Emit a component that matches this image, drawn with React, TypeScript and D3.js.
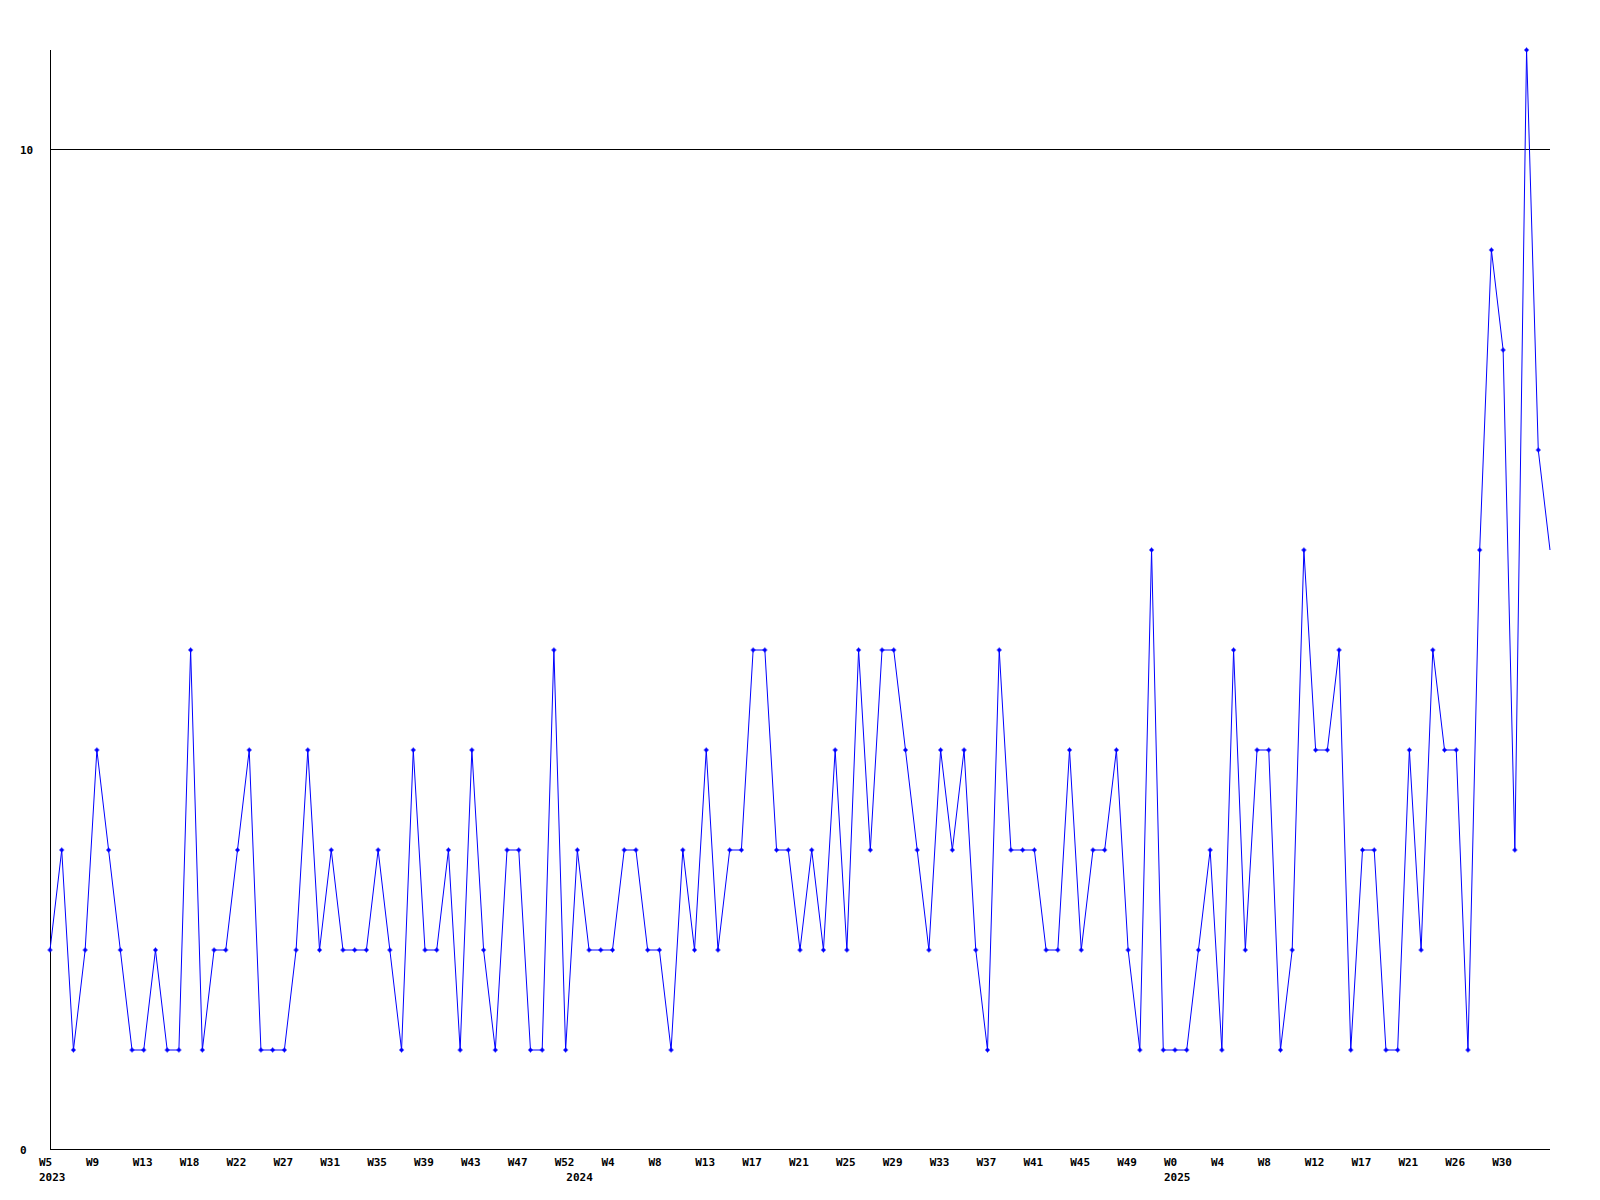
import React from "react";
import * as d3 from "d3";

// ---- data ----
const values: number[] = [
  2, 3, 1, 2, 4, 3, 2, 1, 1, 2, 1, 1, 5, 1, 2, 2, 3,
  4, 1, 1, 1, 2, 4, 2, 3, 2, 2, 2, 3, 2, 1, 4, 2,
  2, 3, 1, 4, 2, 1, 3, 3, 1, 1, 5, 1, 3, 2, 2, 2,
  3, 3, 2, 2, 1, 3, 2, 4, 2, 3, 3, 5, 5, 3, 3, 2,
  3, 2, 4, 2, 5, 3, 5, 5, 4, 3, 2, 4, 3, 4, 2, 1, 5,
  3, 3, 3, 2, 2, 4, 2, 3, 3, 4, 2, 1, 6, 1, 1, 1,
  2, 3, 1, 5, 2, 4, 4, 1, 2, 6, 4, 4, 5, 1, 3, 3,
  1, 1, 4, 2, 5, 4, 4, 1, 6, 9, 8, 3, 11, 7, 6,
];

const weekLabels: string[] = [
  "W5", "W9", "W13", "W18", "W22", "W27", "W31", "W35", "W39", "W43", "W47", "W52",
  "W4", "W8", "W13", "W17", "W21", "W25", "W29", "W33", "W37", "W41", "W45", "W49",
  "W0", "W4", "W8", "W12", "W17", "W21", "W26", "W30",
];
const weekLabelEvery = 4;

const yearLabels: string[] = ["2023", "2024", "2025"];
const yearStartIndex: number[] = [0, 45, 96];

const yTicks: number[] = [0, 10];
const yMax = 11;

// ---- layout ----
const W = 1600;
const H = 1200;
const left = 50;
const right = 1550;
const top = 50;
const bottom = 1150;

export default function App() {
  const x = d3.scaleLinear().domain([0, values.length - 1]).range([left, right]);
  const y = d3.scaleLinear().domain([0, yMax]).range([bottom, top]);
  const line = d3
    .line<number>()
    .x((_, i) => x(i))
    .y((d) => y(d));

  const font = "'DejaVu Sans Mono', 'Liberation Mono', monospace";

  return (
    <svg
      width={W}
      height={H}
      style={{ position: "absolute", left: 0, top: 0, background: "#fff" }}
    >
      <rect x={0} y={0} width={W} height={H} fill="#fff" />
      {/* y axis */}
      <line x1={left + 0.5} x2={left + 0.5} y1={top} y2={bottom} stroke="#000" strokeWidth={1} />
      {/* horizontal lines for ticks */}
      {yTicks.map((t) => (
        <g key={t}>
          <line
            x1={left}
            x2={right}
            y1={Math.round(y(t)) - 0.5}
            y2={Math.round(y(t)) - 0.5}
            stroke="#000"
            strokeWidth={1}
          />
          <text
            x={20}
            y={y(t) + 4}
            fontFamily={font}
            fontWeight="bold"
            fontSize={11}
            fill="#000"
          >
            {t}
          </text>
        </g>
      ))}
      {/* x labels */}
      {weekLabels.map((lab, k) => (
        <text
          key={"w" + k}
          x={x(k * weekLabelEvery) - 11}
          y={1166}
          fontFamily={font}
          fontWeight="bold"
          fontSize={11}
          fill="#000"
        >
          {lab}
        </text>
      ))}
      {yearLabels.map((lab, k) => (
        <text
          key={"y" + k}
          x={x(yearStartIndex[k]) - 11}
          y={1181}
          fontFamily={font}
          fontWeight="bold"
          fontSize={11}
          fill="#000"
        >
          {lab}
        </text>
      ))}
      {/* series */}
      <path d={line(values) || ""} fill="none" stroke="#0000ff" strokeWidth={1} />
      {values.slice(0, values.length - 1).map((v, i) => {
        const cx = x(i);
        const cy = y(v);
        return (
          <g key={"m" + i} fill="#0000ff">
            <rect x={cx - 2.5} y={cy - 0.5} width={5} height={1} />
            <rect x={cx - 0.5} y={cy - 2.5} width={1} height={5} />
            <rect x={cx - 1.5} y={cy - 1.5} width={3} height={3} />
          </g>
        );
      })}
    </svg>
  );
}
